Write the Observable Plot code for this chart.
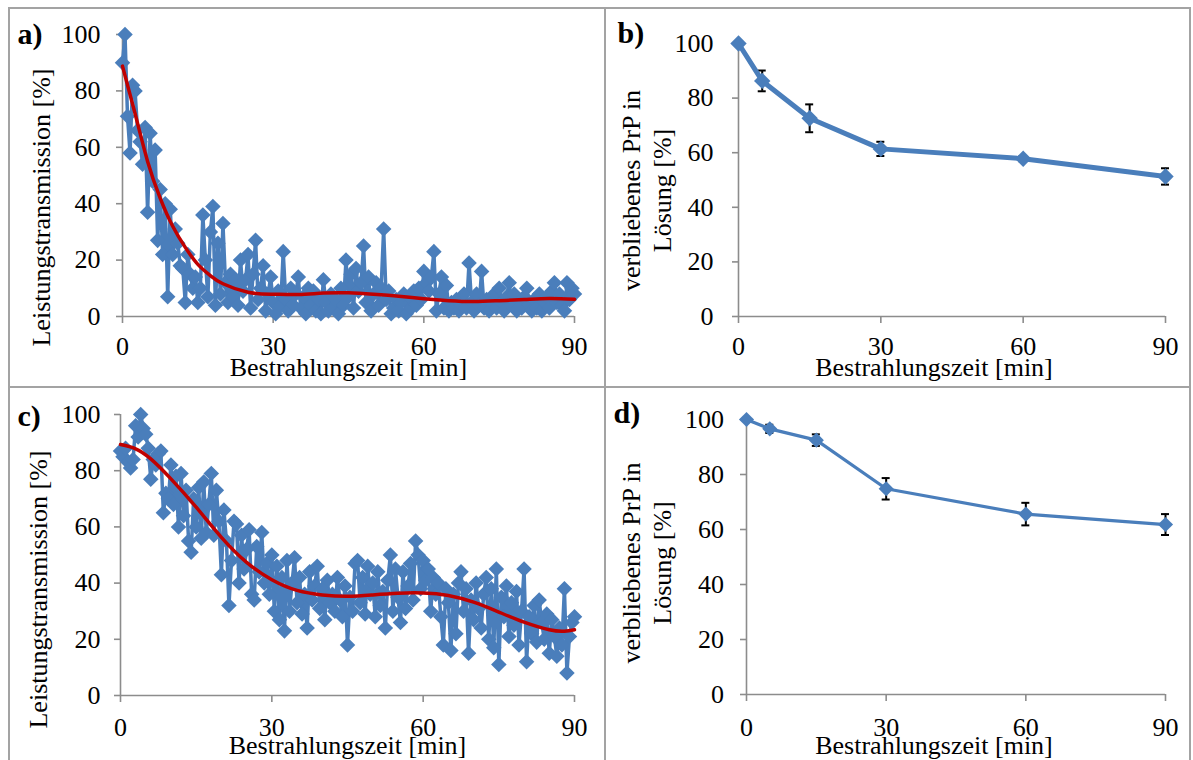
<!DOCTYPE html>
<html><head><meta charset="utf-8">
<script src="https://cdn.jsdelivr.net/npm/d3@7"></script>
<script src="https://cdn.jsdelivr.net/npm/@observablehq/plot@0.6"></script>
<style>
html,body{margin:0;padding:0;background:#fff;}
#root{position:relative;width:1193px;height:760px;overflow:hidden;background:#fff;}
.panel{position:absolute;}
.border{position:absolute;background:#a3a3a3;}
</style></head><body><div id="root"></div>
<script>
// ---------- data ----------
const xTicks = [0, 30, 60, 90];
const yTicks = [0, 20, 40, 60, 80, 100];
const xLabel = "Bestrahlungszeit [min]";
const yLabelTrans = "Leistungstransmission [%]";
const yLabelPrP = "verbliebenes PrP in\nLösung [%]";

// sampling times of the transmission measurements (every 0.5 min)
const timesScan = d3.range(0, 90.5, 0.5);

// panel a: power transmission [%]
const transA = [
  90, 100, 71, 58, 82, 80, 66, 62, 54, 67,
  37, 65, 48, 59, 27, 45, 22, 40, 7, 38,
  22, 31, 26, 18, 17, 5, 22, 15, 10, 14,
  5, 10, 36, 20, 7, 30, 39, 4, 26, 8,
  33, 12, 5, 15, 7, 13, 4, 20, 9, 13,
  22, 3, 15, 27, 6, 10, 18, 2, 8, 14,
  5, 1, 9, 4, 23, 6, 2, 10, 4, 8,
  14, 3, 7, 1, 10, 4, 9, 2, 6, 1,
  13, 5, 2, 8, 3, 6, 1, 10, 4, 20,
  7, 15, 3, 17, 9, 12, 25, 5, 14, 2,
  8, 12, 4, 10, 31, 6, 9, 1, 3, 6,
  2, 5, 8, 1, 7, 3, 9, 4, 10, 6,
  16, 12, 9, 14, 23, 2, 8, 14, 3, 11,
  2, 5, 3, 6, 2, 4, 8, 3, 19, 5,
  2, 8, 4, 16, 3, 6, 2, 5, 8, 3,
  10, 5, 2, 7, 12, 4, 8, 2, 6, 3,
  7, 10, 4, 2, 6, 3, 8, 2, 5, 7,
  3, 9, 12, 5, 8, 4, 2, 12, 6, 10,
  8
];
const fitTimesA = [0, 2.5, 5, 7.5, 10, 12.5, 15, 17.5, 20, 25, 30, 35, 40, 45, 50, 55, 60, 65, 70, 75, 80, 85, 90];
const fitA = [88.8, 72, 55, 42, 32, 24.5, 18.5, 14.5, 11.6, 8.6, 7.9, 7.8, 8.3, 8.4, 7.9, 7.2, 6.3, 5.6, 5.3, 5.6, 6.0, 6.4, 6.1];

// panel c: power transmission [%]
const transC = [
  87, 85, 88, 83, 81, 84, 96, 92, 100, 95,
  93, 88, 77, 84, 82, 86, 87, 65, 72, 70,
  82, 68, 78, 60, 79, 64, 73, 55, 51, 70,
  60, 74, 56, 76, 58, 68, 79, 57, 73, 62,
  43, 66, 55, 32, 48, 62, 61, 40, 57, 45,
  52, 59, 36, 34, 53, 44, 58, 40, 47, 36,
  50, 30, 46, 27, 42, 23, 48, 30, 40, 49,
  33, 42, 29, 36, 24, 44, 34, 39, 46, 31,
  38, 27, 41, 33, 36, 30, 42, 34, 28, 39,
  18, 35, 30, 47, 48, 33, 42, 29, 46, 36,
  40, 28, 44, 32, 37, 24, 41, 50, 30, 45,
  35, 26, 44, 31, 39, 47, 34, 55, 50, 38,
  48, 41, 45, 30, 42, 36, 40, 28, 18, 38,
  33, 16, 36, 22, 40, 44, 30, 38, 15, 34,
  27, 40, 31, 24, 36, 42, 20, 38, 17, 45,
  11, 35, 28, 39, 21, 33, 25, 37, 18, 30,
  45, 12, 28, 22, 32, 19, 34, 26, 20, 29,
  15, 27, 21, 14, 24, 18, 38, 8, 21, 26,
  28
];
const fitTimesC = [0, 3, 6, 10, 15, 20, 25, 30, 35, 40, 45, 50, 55, 60, 65, 70, 75, 80, 85, 88, 90];
const fitC = [89.3, 87.8, 84.2, 77.1, 67, 56.3, 47.4, 41.2, 37.4, 35.8, 35.3, 35.8, 36.4, 36.5, 35.6, 33.2, 29.7, 26.1, 23.4, 22.9, 23.4];

// panels b and d: remaining PrP in solution [%]
const timesPrP = [0, 5, 15, 30, 60, 90];
const prpB = [100, 86.3, 72.6, 61.4, 57.8, 51.3];
const errB = [0, 3.8, 5.1, 2.6, 1.0, 3.0];
const prpD = [100, 96.6, 92.5, 74.8, 65.6, 61.8];
const errD = [0, 1.5, 2.1, 3.9, 4.1, 3.8];

// ---------- styles ----------
const BLUE = "#4a7ebb";
const RED = "#c00000";
const AXIS = "#8c8c8c";
const FONT = "'Liberation Serif', 'Times New Roman', serif";

const scanA = timesScan.map((t, i) => ({t, v: transA[i]}));
const scanC = timesScan.map((t, i) => ({t, v: transC[i]}));
const curveA = fitTimesA.map((t, i) => ({t, v: fitA[i]}));
const curveC = fitTimesC.map((t, i) => ({t, v: fitC[i]}));
const prpDataB = timesPrP.map((t, i) => ({t, v: prpB[i], lo: prpB[i] - errB[i], hi: prpB[i] + errB[i]}));
const prpDataD = timesPrP.map((t, i) => ({t, v: prpD[i], lo: prpD[i] - errD[i], hi: prpD[i] + errD[i]}));

const root = document.getElementById("root");

function panel(cfg) {
  const svg = Plot.plot({
    width: cfg.width, height: cfg.height,
    marginLeft: cfg.mL, marginRight: cfg.mR, marginTop: cfg.mT, marginBottom: cfg.mB,
    x: {domain: [0, 90]},
    y: {domain: [0, 100]},
    style: {fontFamily: FONT, fontSize: "26px", color: "black", background: "transparent", overflow: "visible"},
    marks: [
      Plot.ruleX([0], {stroke: AXIS, strokeWidth: 1.6}),
      Plot.ruleY([0], {stroke: AXIS, strokeWidth: 1.6}),
      Plot.axisX({ticks: xTicks, tickSize: 7, tickPadding: cfg.xPad, stroke: AXIS, strokeWidth: 1.6, fill: "black", label: null, tickFormat: d => String(d)}),
      Plot.axisY({ticks: yTicks, tickSize: 6, tickPadding: cfg.yPad, stroke: AXIS, strokeWidth: 1.6, fill: "black", label: null, tickFormat: d => String(d)}),
      ...cfg.marks,
      Plot.text([xLabel], {text: d => d, frameAnchor: "bottom", lineAnchor: "middle", textAnchor: "middle", dx: cfg.xlDx, dy: cfg.xlDy, fill: "black"}),
      Plot.text([cfg.yLabel], {text: d => d, frameAnchor: "left", rotate: -90, lineAnchor: "middle", textAnchor: "middle", lineHeight: 1.19, dx: cfg.ylDx, dy: cfg.ylDy, fill: "black"}),
      Plot.text([cfg.letter], {text: d => d, frameAnchor: "top-left", textAnchor: "start", lineAnchor: "middle", fontWeight: "bold", fontSize: 30, dx: cfg.lDx, dy: cfg.lDy, fill: "black"})
    ]
  });
  const div = document.createElement("div");
  div.className = "panel";
  div.style.left = cfg.left + "px";
  div.style.top = cfg.top + "px";
  div.style.width = cfg.width + "px";
  div.style.height = cfg.height + "px";
  div.appendChild(svg);
  root.appendChild(div);
}

function scanMarks(data, curve) {
  return [
    Plot.line(data, {x: "t", y: "v", stroke: BLUE, strokeWidth: 3.5, strokeLinejoin: "round"}),
    Plot.dot(data, {x: "t", y: "v", symbol: "diamond2", r: 7, fill: BLUE}),
    Plot.line(curve, {x: "t", y: "v", stroke: RED, strokeWidth: 3.5, curve: "natural"})
  ];
}
function prpMarks(data, lw, r) {
  return [
    Plot.ruleX(data, {x: "t", y1: "lo", y2: "hi", stroke: "black", strokeWidth: 2}),
    Plot.ruleY(data, {x1: "t", x2: "t", y: "hi", insetLeft: -4, insetRight: -4, stroke: "black", strokeWidth: 2}),
    Plot.ruleY(data, {x1: "t", x2: "t", y: "lo", insetLeft: -4, insetRight: -4, stroke: "black", strokeWidth: 2}),
    Plot.line(data, {x: "t", y: "v", stroke: BLUE, strokeWidth: lw, strokeLinejoin: "round"}),
    Plot.dot(data, {x: "t", y: "v", symbol: "diamond2", r, fill: BLUE})
  ];
}

panel({left: 10, top: 10, width: 594, height: 376, mL: 112, mR: 30, mT: 24, mB: 70,
  xPad: 13, yPad: 16, xlDx: 0, xlDy: 50.7, yLabel: yLabelTrans, ylDx: -82, ylDy: 32,
  letter: "a)", lDx: -105, lDy: -0.6, marks: scanMarks(scanA, curveA)});
panel({left: 606, top: 10, width: 584, height: 376, mL: 132, mR: 25, mT: 33, mB: 70,
  xPad: 13, yPad: 19, xlDx: -18, xlDy: 50.7, yLabel: yLabelPrP, ylDx: -92.5, ylDy: 10.5,
  letter: "b)", lDx: -121, lDy: -10.6, marks: prpMarks(prpDataB, 5, 7.4)});
panel({left: 10, top: 388, width: 594, height: 372, mL: 110, mR: 30, mT: 26, mB: 65,
  xPad: 15, yPad: 14, xlDx: 0, xlDy: 50.5, yLabel: yLabelTrans, ylDx: -83, ylDy: 34.5,
  letter: "c)", lDx: -103, lDy: 1.4, marks: scanMarks(scanC, curveC)});
panel({left: 606, top: 388, width: 584, height: 372, mL: 140, mR: 25, mT: 31, mB: 66,
  xPad: 16, yPad: 16.5, xlDx: -22, xlDy: 51, yLabel: yLabelPrP, ylDx: -101, ylDy: 6,
  letter: "d)", lDx: -133, lDy: -6.6, marks: prpMarks(prpDataD, 3.2, 6.8)});

// panel frame lines
[
  {l: 8, t: 7, w: 1183, h: 2},
  {l: 8, t: 7, w: 2, h: 753},
  {l: 604, t: 7, w: 2, h: 753},
  {l: 8, t: 386, w: 1183, h: 2},
  {l: 1189, t: 7, w: 2, h: 753}
].forEach(b => {
  const d = document.createElement("div");
  d.className = "border";
  Object.assign(d.style, {left: b.l + "px", top: b.t + "px", width: b.w + "px", height: b.h + "px"});
  root.appendChild(d);
});
</script></body></html>
